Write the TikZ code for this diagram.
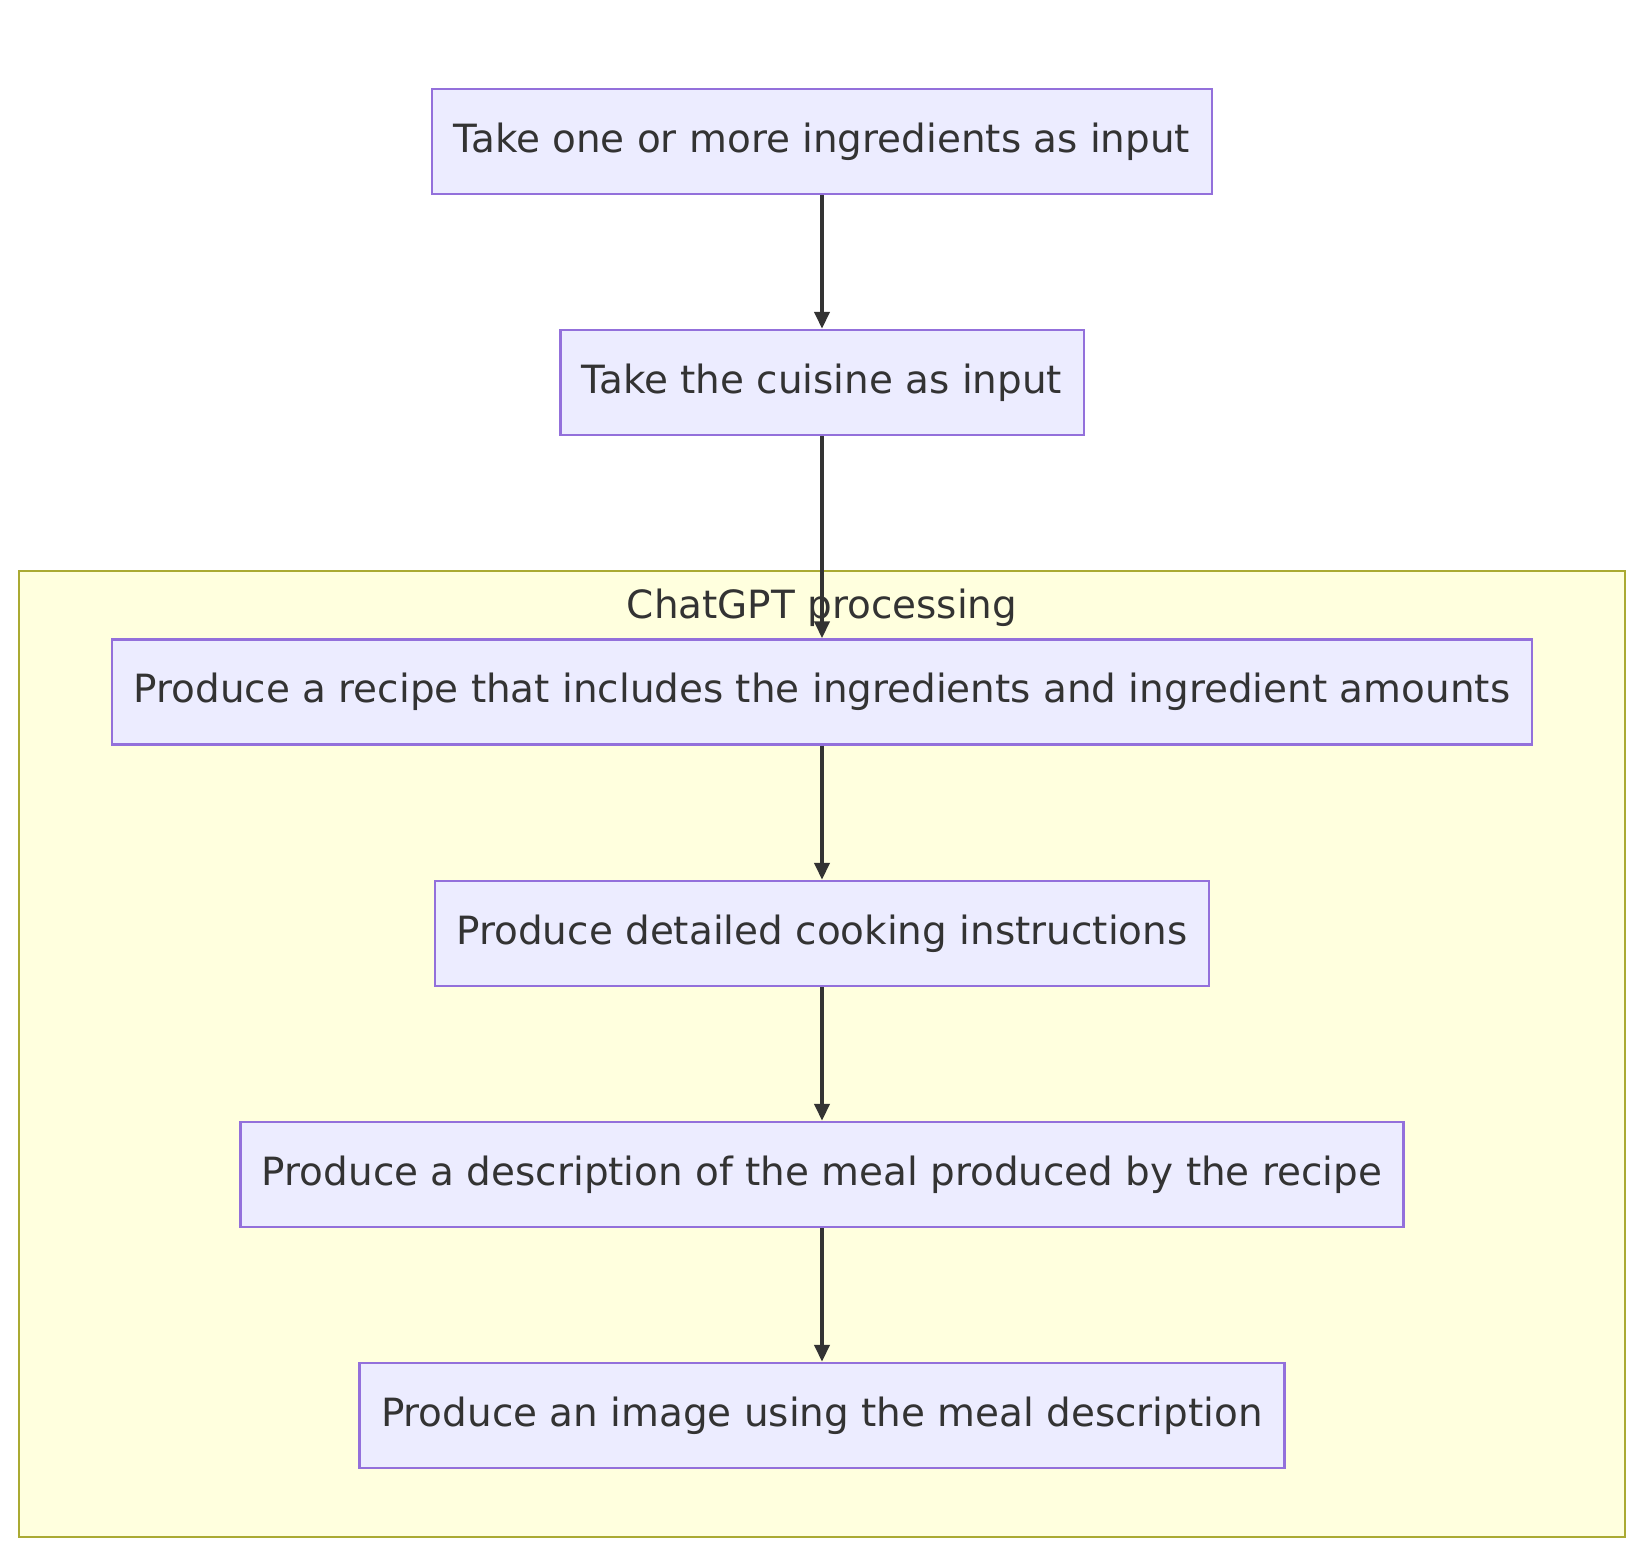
\documentclass[tikz,border=0pt]{standalone}
\usepackage{fontspec}
\setmainfont{DejaVu Sans}
\usetikzlibrary{arrows.meta}
\definecolor{viola}{HTML}{9370DB}
\definecolor{lilla}{HTML}{ECECFF}
\definecolor{giallo}{HTML}{FFFFDE}
\definecolor{oliva}{HTML}{AAAA33}
\definecolor{scuro}{HTML}{333333}
\tikzset{
  passo/.style   = {rectangle, draw=viola, line width=1.2pt, fill=lilla, minimum height=52.5pt, inner xsep=10.8pt, text=scuro, font=\fontsize{19.45}{23}\selectfont},
  gruppo/.style  = {draw=oliva, line width=1.2pt, fill=giallo},
  freccia/.style = {draw=scuro, line width=2pt, -{Triangle[length=8.5pt,width=7.5pt]}},
  tit/.style     = {text=scuro, inner sep=0, font=\fontsize{19.45}{23}\selectfont}
}

\begin{document}
\begin{tikzpicture}[x=0.5pt,y=-0.5pt]
  \useasboundingbox (0,0) rectangle (1644,1556);
  % riquadro del sottografo ChatGPT
  \draw[gruppo] (19,571) rectangle (1625,1537);
  \node[tit,anchor=base] (tc) at (822,618) {ChatGPT processing};
  \node[passo] (ing) at (822,141.5) {Take one or more ingredients as input};
  \node[passo] (cuc) at (822,382.5) {Take the cuisine as input};
  \node[passo] (ric) at (822,692)   {Produce a recipe that includes the ingredients and ingredient amounts};
  \node[passo] (ist) at (822,933.5) {Produce detailed cooking instructions};
  \node[passo] (des) at (822,1174.5){Produce a description of the meal produced by the recipe};
  \node[passo] (img) at (822,1415.5){Produce an image using the meal description};
  \draw[freccia] (ing)--(cuc);
  \draw[freccia] (cuc)--(ric);
  \draw[freccia] (ric)--(ist);
  \draw[freccia] (ist)--(des);
  \draw[freccia] (des)--(img);
\end{tikzpicture}
\end{document}
